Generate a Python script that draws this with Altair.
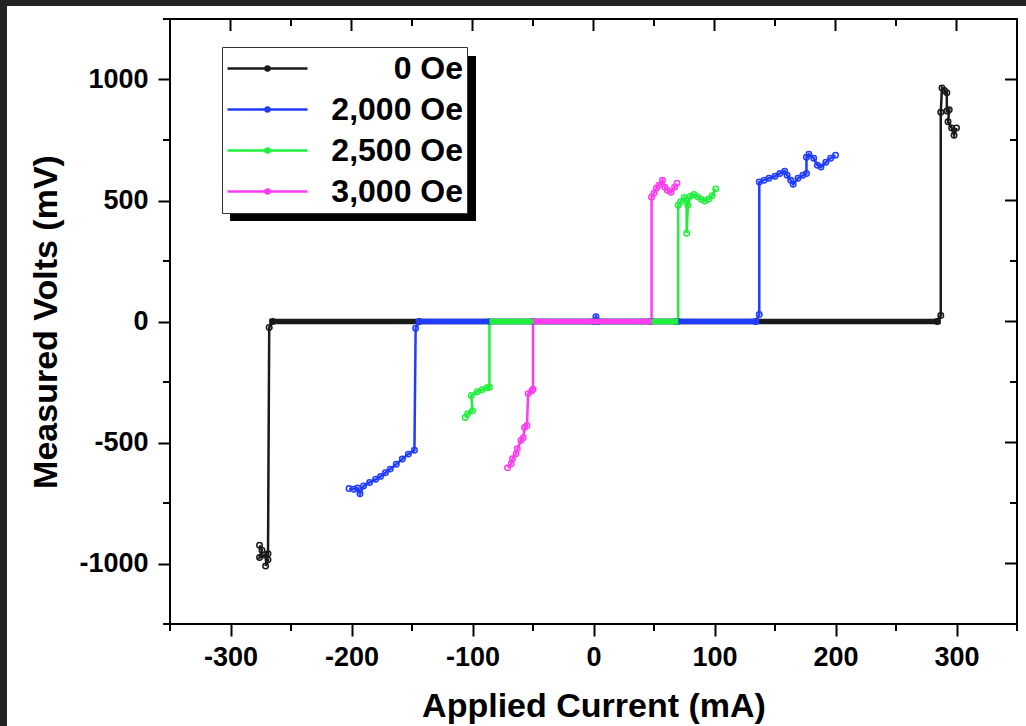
import altair as alt
import pandas as pd

FONT = "Liberation Sans"

series_names = ["0 Oe", "2,000 Oe", "2,500 Oe", "3,000 Oe"]
series_colors = ["#1a1a1a", "#1f3cff", "#1ff03c", "#ff3cf0"]

# 0 Oe
x0 = [-276, -274, -276, -272, -269, -271, -269, -268, -265, 284, 287, 287, 288, 290, 292, 292, 294, 293, 296, 298, 300]
y0 = [-925, -945, -975, -965, -985, -1010, -960, -25, 0, 0, 25, 865, 965, 955, 945, 870, 875, 825, 800, 770, 800]

# 2,000 Oe
x1 = [-202, -198, -195, -193, -190, -185, -180, -176, -172, -168, -163, -158, -153, -148, -147, -144,
      0, 2, 4, 134, 137, 137, 141, 145, 150, 154, 158, 160, 163, 165, 169, 173, 176, 176, 178, 182,
      185, 188, 192, 196, 200]
y1 = [-690, -693, -688, -712, -680, -665, -652, -640, -625, -610, -590, -568, -548, -532, -28, 0,
      0, 20, 0, 0, 29, 576, 584, 592, 600, 612, 621, 604, 584, 567, 592, 604, 612, 679, 691, 675,
      646, 638, 658, 675, 687]

# 2,500 Oe
x2 = [-106, -104, -100, -101, -96, -92, -88, -86, -86, 68, 70, 70, 72, 75, 77, 77, 78, 80, 83, 86,
      89, 92, 95, 98, 101]
y2 = [-397, -381, -369, -306, -290, -282, -274, -272, 0, 0, 0, 480, 495, 512, 500, 365, 480, 518,
      525, 515, 505, 498, 505, 520, 548]

# 3,000 Oe
x3 = [-71, -68, -67, -64, -63, -60, -58, -57, -55, -54, -51, -50, -50, 46, 48, 48, 50, 52, 54, 57,
      59, 61, 64, 67, 69]
y3 = [-604, -588, -567, -547, -526, -492, -480, -438, -430, -298, -286, -280, 0, 0, 0, 513, 530,
      551, 563, 584, 555, 542, 534, 555, 571]

# flat (0 mV) stretch of each sweep
flat_start = [-268, -147, -86, -50]
flat_end = [287, 137, 70, 48]

x_major = [-300, -200, -100, 0, 100, 200, 300]
x_minor = [-350, -250, -150, -50, 50, 150, 250, 350]
y_major = [-1000, -500, 0, 500, 1000]
y_minor = [-1250, -750, -250, 250, 750, 1250]

rows = []
for name, xs, ys in zip(series_names, [x0, x1, x2, x3], [y0, y1, y2, y3]):
    for i, (xv, yv) in enumerate(zip(xs, ys)):
        rows.append({"series": name, "idx": i, "x": xv, "y": yv})
df = pd.DataFrame(rows)
bands = pd.DataFrame({"series": series_names, "start": flat_start, "end": flat_end, "zero": [0] * 4})

PL, PT = 170, 19
W, H = 847, 605
xscale = alt.Scale(domain=[-350, 350], nice=False, zero=False)
yscale = alt.Scale(domain=[-1250, 1250], nice=False, zero=False)
cscale = alt.Scale(domain=series_names, range=series_colors)

common_axis = dict(
    domain=False, grid=False, tickSize=12, tickWidth=2, tickColor="black",
    labelFont=FONT, labelFontSize=27, labelFontWeight="bold", labelColor="black",
    titleFont=FONT, titleFontSize=34, titleFontWeight="bold", titleColor="black",
    labelExpr="'' + datum.value",
)
xaxis = alt.Axis(title="Applied Current (mA)", values=x_major, labelPadding=8, titlePadding=19, **common_axis)
yaxis = alt.Axis(title="Measured Volts (mV)", values=y_major, labelPadding=10, titlePadding=15, **common_axis)

legend = alt.Legend(
    title=None, orient="none", legendX=52, legendY=28, fillColor="white", strokeColor="#333333",
    padding=4, symbolType="M-1,0H1M-0.05,0A0.05,0.05,0,1,1,0.05,0A0.05,0.05,0,1,1,-0.05,0",
    symbolSize=6400, symbolStrokeWidth=2.5, labelFont=FONT, labelFontSize=32, labelFontWeight="bold",
    labelColor="black", labelAlign="right", labelOffset=154, clipHeight=35, rowPadding=6,
)


def X(field):
    return alt.X(field, scale=xscale, axis=xaxis)


def Y(field):
    return alt.Y(field, scale=yscale, axis=yaxis)


dark = "#222222"
left_strip = alt.Chart(alt.Data(values=[{}])).mark_rect(color=dark).encode(
    x=alt.value(-PL), x2=alt.value(-PL + 7), y=alt.value(-PT), y2=alt.value(726 - PT))
top_strip = alt.Chart(alt.Data(values=[{}])).mark_rect(color=dark).encode(
    x=alt.value(-PL), x2=alt.value(1026 - PL), y=alt.value(-PT), y2=alt.value(-PT + 6))

lines = alt.Chart(df).mark_line(strokeWidth=2.5).encode(
    x=X("x:Q"), y=Y("y:Q"),
    color=alt.Color("series:N", scale=cscale, legend=legend),
    order="idx:Q",
)
points = alt.Chart(df).mark_point(filled=False, size=30, strokeWidth=1.5, opacity=1).encode(
    x=X("x:Q"), y=Y("y:Q"),
    color=alt.Color("series:N", scale=cscale, legend=legend),
)
flat = alt.Chart(bands).mark_rule(strokeWidth=5.5).encode(
    x=X("start:Q"), x2="end:Q", y=Y("zero:Q"),
    color=alt.Color("series:N", scale=cscale, legend=legend),
)

tick_style = dict(color="black", strokeWidth=2)
xmaj = pd.DataFrame({"v": x_major})
xmin = pd.DataFrame({"v": x_minor})
ymaj = pd.DataFrame({"v": y_major})
ymin = pd.DataFrame({"v": y_minor})

ticks = [
    alt.Chart(xmin).mark_rule(**tick_style).encode(x=X("v:Q"), y=alt.value(H), y2=alt.value(H + 7)),
    alt.Chart(xmaj).mark_rule(**tick_style).encode(x=X("v:Q"), y=alt.value(0), y2=alt.value(12)),
    alt.Chart(xmin).mark_rule(**tick_style).encode(x=X("v:Q"), y=alt.value(0), y2=alt.value(7)),
    alt.Chart(ymin).mark_rule(**tick_style).encode(y=Y("v:Q"), x=alt.value(-7), x2=alt.value(0)),
    alt.Chart(ymaj).mark_rule(**tick_style).encode(y=Y("v:Q"), x=alt.value(W - 12), x2=alt.value(W)),
    alt.Chart(ymin).mark_rule(**tick_style).encode(y=Y("v:Q"), x=alt.value(W - 7), x2=alt.value(W)),
]

frame = alt.Chart(alt.Data(values=[{}])).mark_rect(fill=None, stroke="black", strokeWidth=2).encode(
    x=alt.value(0), x2=alt.value(W), y=alt.value(0), y2=alt.value(H))

shadow = alt.Chart(alt.Data(values=[{}])).mark_rect(color="black").encode(
    x=alt.value(60), x2=alt.value(306), y=alt.value(37), y2=alt.value(202))

chart = alt.layer(left_strip, top_strip, lines, points, flat, *ticks, frame, shadow).properties(
    width=W, height=H,
    autosize=alt.AutoSizeParams(type="none"),
    padding={"left": PL, "top": PT, "right": 1026 - PL - W, "bottom": 726 - PT - H},
    background="white",
).configure_view(stroke=None)

chart.save("out.html", embed_options={"renderer": "svg", "actions": False})
